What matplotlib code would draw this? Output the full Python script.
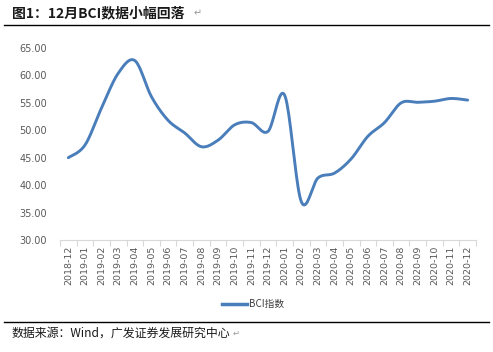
import numpy as np
import matplotlib
matplotlib.use("Agg")
import matplotlib.pyplot as plt
from matplotlib.lines import Line2D

plt.rcParams['font.family'] = ['Noto Sans CJK SC', 'DejaVu Sans']

months = ["2018-12", "2019-01", "2019-02", "2019-03", "2019-04", "2019-05", "2019-06",
          "2019-07", "2019-08", "2019-09", "2019-10", "2019-11", "2019-12", "2020-01",
          "2020-02", "2020-03", "2020-04", "2020-05", "2020-06", "2020-07", "2020-08",
          "2020-09", "2020-10", "2020-11", "2020-12"]
bci = [45.0, 47.3, 54.1, 60.4, 62.7, 56.1, 51.8, 49.5, 47.0, 48.2, 51.0, 51.4, 49.8,
       56.4, 37.0, 41.3, 42.2, 44.8, 48.9, 51.4, 55.0, 55.1, 55.3, 55.8, 55.5]
yticks = [30, 35, 40, 45, 50, 55, 60, 65]
series_name = "BCI指数"

color = "#4A7EBB"

fig = plt.figure(figsize=(4.93, 3.52), dpi=100)
ax = fig.add_axes([60/493, 1-240/352, (476-60)/493, (240-48)/352])

# Excel-style smoothed line (Catmull-Rom through the data points)
x = np.arange(len(bci), dtype=float)
y = np.array(bci, dtype=float)
xs, ys = [], []
n = len(x)
for i in range(n - 1):
    p0 = (x[max(i-1, 0)], y[max(i-1, 0)])
    p1 = (x[i], y[i])
    p2 = (x[i+1], y[i+1])
    p3 = (x[min(i+2, n-1)], y[min(i+2, n-1)])
    t = np.linspace(0, 1, 20, endpoint=(i == n-2))
    c1x = p1[0] + (p2[0]-p0[0])/6; c1y = p1[1] + (p2[1]-p0[1])/6
    c2x = p2[0] - (p3[0]-p1[0])/6; c2y = p2[1] - (p3[1]-p1[1])/6
    bx = (1-t)**3*p1[0] + 3*(1-t)**2*t*c1x + 3*(1-t)*t**2*c2x + t**3*p2[0]
    by = (1-t)**3*p1[1] + 3*(1-t)**2*t*c1y + 3*(1-t)*t**2*c2y + t**3*p2[1]
    xs.extend(bx); ys.extend(by)
ax.plot(xs, ys, color=color, lw=2.1, solid_capstyle='round')

ax.set_xlim(-0.5, len(months) - 0.5)
ax.set_ylim(30, 65)
ax.set_yticks(yticks)
ax.set_yticklabels([f"{v:.2f}" for v in yticks], fontsize=7, color="#595959",
                   family=['DejaVu Sans'])
ax.set_xticks(x)
ax.set_xticklabels(months, rotation=90, fontsize=6.8, color="#595959",
                   family=['DejaVu Sans'])
ax.set_xticks(np.arange(-0.5, len(months)), minor=True)
ax.tick_params(axis='x', which='major', length=0, pad=4)
ax.tick_params(axis='x', which='minor', length=4, color="#D9D9D9", width=0.8)
ax.tick_params(axis='y', length=0, pad=9.5)
for s in ['top', 'right', 'left']:
    ax.spines[s].set_visible(False)
ax.spines['bottom'].set_color("#D9D9D9")
ax.spines['bottom'].set_linewidth(0.8)

# legend
handle = Line2D([0], [0], color=color, lw=2.5)
fig.legend([handle], [series_name], loc='center', bbox_to_anchor=(253/493, 1-304/352),
           frameon=False, fontsize=7, handlelength=2.6, handletextpad=0.2,
           labelcolor="#404040")

# title and rules
fig.text(12/493, 1-13/352, "图1：12月BCI数据小幅回落", fontsize=10, fontweight='bold',
         color="#1a1a1a", va='center', ha='left')
fig.text(194/493, 1-13/352, "↵", fontsize=7, color="#999999", va='center', ha='left',
         family=['DejaVu Sans'])
fig.add_artist(Line2D([4/493, 489/493], [1-24.5/352, 1-24.5/352], color="black", lw=1.0))
fig.add_artist(Line2D([4/493, 489/493], [1-322/352, 1-322/352], color="black", lw=1.0))
fig.text(12/493, 1-333/352, "数据来源：Wind，广发证券发展研究中心", fontsize=8.6,
         color="#1a1a1a", va='center', ha='left')
fig.text(233/493, 1-333/352, "↵", fontsize=6, color="#999999", va='center', ha='left',
         family=['DejaVu Sans'])

fig.savefig("out.png", dpi=100)
